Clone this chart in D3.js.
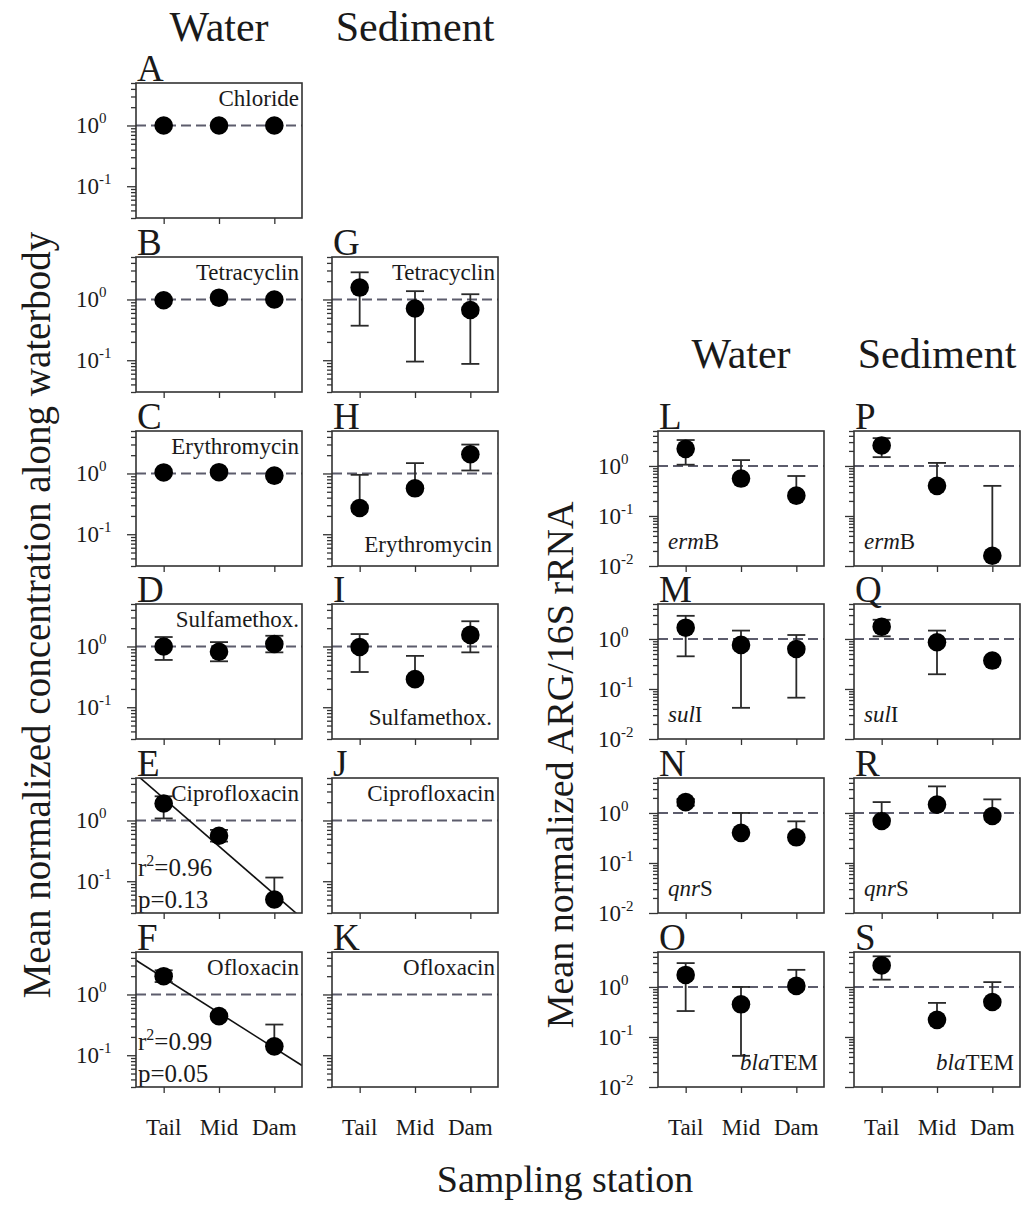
<!DOCTYPE html>
<html>
<head>
<meta charset="utf-8">
<script src="https://cdn.jsdelivr.net/npm/d3@7"></script>
<style>
  body { margin: 0; background: #fff; }
  text { font-family: "Liberation Serif", "DejaVu Serif", serif; fill: #1a1a1a; }
</style>
</head>
<body>
<svg id="fig" width="1026" height="1207"></svg>
<script>
// stations along the waterbody
const stations = ["Tail", "Mid", "Dam"];

// each row is one station: [mean, lower bar, upper bar], null = no bar drawn
// water, pharmaceuticals
const chlorideWater      = [[1.0, null, null], [1.0, null, null], [1.0, null, null]];
const tetracyclinWater   = [[0.97, null, null], [1.07, null, null], [1.0, null, null]];
const erythromycinWater  = [[1.04, null, null], [1.05, null, null], [0.92, null, null]];
const sulfamethoxWater   = [[1.0, 0.6, 1.43], [0.82, 0.57, 1.18], [1.1, 0.8, 1.5]];
const ciprofloxacinWater = [[1.9, 1.08, 2.5], [0.56, 0.45, 0.7], [0.05, null, 0.115]];
const ofloxacinWater     = [[2.0, 1.6, 2.5], [0.44, null, null], [0.14, null, 0.32]];
// sediment, pharmaceuticals
const tetracyclinSed     = [[1.57, 0.37, 2.8], [0.71, 0.095, 1.37], [0.67, 0.087, 1.22]];
const erythromycinSed    = [[0.27, null, 0.95], [0.57, null, 1.48], [2.07, 1.12, 2.99]];
const sulfamethoxSed     = [[0.98, 0.38, 1.6], [0.29, null, 0.7], [1.55, 0.8, 2.6]];
const ciprofloxacinSed   = [];
const ofloxacinSed       = [];
// water, ARG / 16S rRNA
const ermBWater   = [[2.2, 1.06, 3.3], [0.56, null, 1.31], [0.255, null, 0.63]];
const sulIWater   = [[1.68, 0.45, 2.9], [0.76, 0.042, 1.47], [0.63, 0.067, 1.2]];
const qnrSWater   = [[1.65, 1.4, 1.9], [0.40, null, 1.0], [0.326, null, 0.68]];
const blaTEMWater = [[1.74, 0.33, 3.0], [0.45, 0.042, 1.0], [1.05, null, 2.2]];
// sediment, ARG / 16S rRNA
const ermBSed   = [[2.56, 1.5, 3.6], [0.40, null, 1.15], [0.016, null, 0.40]];
const sulISed   = [[1.76, 1.13, 2.42], [0.86, 0.197, 1.47], [0.37, null, null]];
const qnrSSed   = [[0.69, null, 1.65], [1.47, null, 3.4], [0.87, null, 1.87]];
const blaTEMSed = [[2.7, 1.4, 4.1], [0.22, null, 0.48], [0.5, null, 1.25]];

// axis ranges and ticks
const concDomain = [0.03, 5];
const concMajor = [0.1, 1];
const argDomain = [0.01, 5];
const argMajor = [0.01, 0.1, 1];

// layout
const W = 166, H = 135;
const colX = {w1: 136, s1: 332, w2: 658, s2: 854};
const rowY = [83, 257, 431, 604, 778, 952];

const svg = d3.select("#fig");

const panels = [
  {id: "A", name: "Chloride",      data: chlorideWater,      x: colX.w1, y: rowY[0], pos: "tr", yl: true},
  {id: "B", name: "Tetracyclin",   data: tetracyclinWater,   x: colX.w1, y: rowY[1], pos: "tr", yl: true},
  {id: "C", name: "Erythromycin",  data: erythromycinWater,  x: colX.w1, y: rowY[2], pos: "tr", yl: true},
  {id: "D", name: "Sulfamethox.",  data: sulfamethoxWater,   x: colX.w1, y: rowY[3], pos: "tr", yl: true},
  {id: "E", name: "Ciprofloxacin", data: ciprofloxacinWater, x: colX.w1, y: rowY[4], pos: "tr", yl: true, reg: ["0.96", "0.13"]},
  {id: "F", name: "Ofloxacin",     data: ofloxacinWater,     x: colX.w1, y: rowY[5], pos: "tr", yl: true, reg: ["0.99", "0.05"], xl: true},
  {id: "G", name: "Tetracyclin",   data: tetracyclinSed,     x: colX.s1, y: rowY[1], pos: "tr"},
  {id: "H", name: "Erythromycin",  data: erythromycinSed,    x: colX.s1, y: rowY[2], pos: "br"},
  {id: "I", name: "Sulfamethox.",  data: sulfamethoxSed,     x: colX.s1, y: rowY[3], pos: "br"},
  {id: "J", name: "Ciprofloxacin", data: ciprofloxacinSed,   x: colX.s1, y: rowY[4], pos: "tr"},
  {id: "K", name: "Ofloxacin",     data: ofloxacinSed,       x: colX.s1, y: rowY[5], pos: "tr", xl: true},
  {id: "L", gene: ["erm", "B"],    data: ermBWater,   x: colX.w2, y: rowY[2], pos: "bl", arg: true, yl: true},
  {id: "M", gene: ["sul", "I"],    data: sulIWater,   x: colX.w2, y: rowY[3], pos: "bl", arg: true, yl: true},
  {id: "N", gene: ["qnr", "S"],    data: qnrSWater,   x: colX.w2, y: rowY[4], pos: "bl", arg: true, yl: true},
  {id: "O", gene: ["bla", "TEM"],  data: blaTEMWater, x: colX.w2, y: rowY[5], pos: "br", arg: true, yl: true, xl: true},
  {id: "P", gene: ["erm", "B"],    data: ermBSed,     x: colX.s2, y: rowY[2], pos: "bl", arg: true},
  {id: "Q", gene: ["sul", "I"],    data: sulISed,     x: colX.s2, y: rowY[3], pos: "bl", arg: true},
  {id: "R", gene: ["qnr", "S"],    data: qnrSSed,     x: colX.s2, y: rowY[4], pos: "bl", arg: true},
  {id: "S", gene: ["bla", "TEM"],  data: blaTEMSed,   x: colX.s2, y: rowY[5], pos: "br", arg: true, xl: true}
];

function minorTicks(domain) {
  let out = [];
  for (let e = -3; e <= 1; e++) {
    for (let m = 2; m <= 9; m++) {
      const v = m * Math.pow(10, e);
      if (v >= domain[0] - 1e-9 && v <= domain[1] + 1e-9) out.push(v);
    }
  }
  return out;
}

function drawPanel(p) {
  const g = svg.append("g").attr("transform", `translate(${p.x},${p.y})`);
  const dom = p.arg ? argDomain : concDomain;
  const majors = p.arg ? argMajor : concMajor;
  const x = d3.scaleLinear().domain([0.5, 3.5]).range([0, W]);
  const y = d3.scaleLog().domain(dom).range([H, 0]);

  const clipId = "clip" + p.id;
  g.append("clipPath").attr("id", clipId)
    .append("rect").attr("width", W).attr("height", H);

  // reference line at 1
  g.append("line")
    .attr("x1", 0).attr("x2", W)
    .attr("y1", y(1)).attr("y2", y(1))
    .attr("stroke", "#5c5c6c").attr("stroke-width", 1.9)
    .attr("stroke-dasharray", "10,5");

  // regression in log space
  if (p.reg) {
    const xs = [1, 2, 3], ys = p.data.map(d => Math.log10(d[0]));
    const mx = d3.mean(xs), my = d3.mean(ys);
    const b = d3.sum(xs, (v, i) => (v - mx) * (ys[i] - my)) / d3.sum(xs, v => (v - mx) ** 2);
    const a = my - b * mx;
    g.append("line")
      .attr("clip-path", `url(#${clipId})`)
      .attr("x1", x(0.5)).attr("y1", y(Math.pow(10, a + b * 0.5)))
      .attr("x2", x(3.5)).attr("y2", y(Math.pow(10, a + b * 3.5)))
      .attr("stroke", "#111").attr("stroke-width", 1.6);
    const t1 = g.append("text").attr("x", 2).attr("y", 98).attr("font-size", 25);
    t1.append("tspan").text("r");
    t1.append("tspan").attr("dy", -10).attr("font-size", 16).text("2");
    t1.append("tspan").attr("dy", 10).text("=" + p.reg[0]);
    g.append("text").attr("x", 2).attr("y", 130).attr("font-size", 25).text("p=" + p.reg[1]);
  }

  // error bars
  const bars = g.append("g").attr("stroke", "#2a2a2a").attr("stroke-width", 1.8).attr("fill", "none");
  p.data.forEach((d, i) => {
    const cx = x(i + 1);
    [d[1], d[2]].forEach(v => {
      if (v == null) return;
      bars.append("line").attr("x1", cx).attr("x2", cx).attr("y1", y(d[0])).attr("y2", y(v));
      bars.append("line").attr("x1", cx - 9).attr("x2", cx + 9).attr("y1", y(v)).attr("y2", y(v));
    });
  });

  // means
  g.selectAll("circle.pt").data(p.data).join("circle")
    .attr("class", "pt")
    .attr("cx", (d, i) => x(i + 1))
    .attr("cy", d => y(d[0]))
    .attr("r", 9.3)
    .attr("fill", "#000");

  // frame
  g.append("rect").attr("width", W).attr("height", H)
    .attr("fill", "none").attr("stroke", "#333").attr("stroke-width", 1.6);

  // y ticks
  const yMaj = g.append("g").call(d3.axisLeft(y).tickValues(majors).tickSize(9).tickFormat(""));
  const yMin = g.append("g").call(d3.axisLeft(y).tickValues(minorTicks(dom)).tickSize(5).tickFormat(""));
  [yMaj, yMin].forEach(a => {
    a.select(".domain").remove();
    a.selectAll("line").attr("stroke", "#333").attr("stroke-width", 1.3);
  });
  if (p.yl) {
    majors.forEach(v => {
      const t = g.append("text").attr("x", -60).attr("y", y(v) + 8).attr("font-size", 23);
      t.append("tspan").text("10");
      t.append("tspan").attr("dy", -10).attr("font-size", 15).text(Math.round(Math.log10(v)));
    });
  }

  // x ticks
  const xa = g.append("g").attr("transform", `translate(0,${H})`)
    .call(d3.axisBottom(x).tickValues([1, 2, 3]).tickSize(6).tickFormat(""));
  xa.select(".domain").remove();
  xa.selectAll("line").attr("stroke", "#333").attr("stroke-width", 1.3);
  if (p.xl) {
    stations.forEach((s, i) => {
      g.append("text").attr("x", x(i + 1)).attr("y", H + 48)
        .attr("text-anchor", "middle").attr("font-size", 23).text(s);
    });
  }

  // panel letter
  g.append("text").attr("x", 1).attr("y", -2).attr("font-size", 37).text(p.id);

  // panel name
  let lx, ly, anchor;
  if (p.pos === "tr") { lx = W - 3; ly = 23; anchor = "end"; }
  else if (p.pos === "br") { lx = W - 6; ly = p.arg ? H - 17 : H - 14; anchor = "end"; }
  else { lx = 10; ly = H - 17; anchor = "start"; }
  const lab = g.append("text").attr("x", lx).attr("y", ly)
    .attr("text-anchor", anchor).attr("font-size", 23);
  if (p.gene) {
    lab.append("tspan").attr("font-style", "italic").text(p.gene[0]);
    lab.append("tspan").text(p.gene[1]);
  } else {
    lab.text(p.name);
  }
}

panels.forEach(drawPanel);

// column headings
const heads = [
  ["Water", colX.w1 + W / 2, 41],
  ["Sediment", colX.s1 + W / 2, 41],
  ["Water", colX.w2 + W / 2, 368],
  ["Sediment", colX.s2 + W / 2, 368]
];
heads.forEach(h => {
  svg.append("text").attr("x", h[1]).attr("y", h[2])
    .attr("text-anchor", "middle").attr("font-size", 42).text(h[0]);
});

// axis titles
svg.append("text")
  .attr("transform", "translate(50,615) rotate(-90)")
  .attr("text-anchor", "middle").attr("font-size", 39)
  .text("Mean normalized concentration along waterbody");
svg.append("text")
  .attr("transform", "translate(573,765) rotate(-90)")
  .attr("text-anchor", "middle").attr("font-size", 38)
  .text("Mean normalized ARG/16S rRNA");
svg.append("text")
  .attr("x", 565).attr("y", 1192)
  .attr("text-anchor", "middle").attr("font-size", 38)
  .text("Sampling station");
</script>
</body>
</html>
